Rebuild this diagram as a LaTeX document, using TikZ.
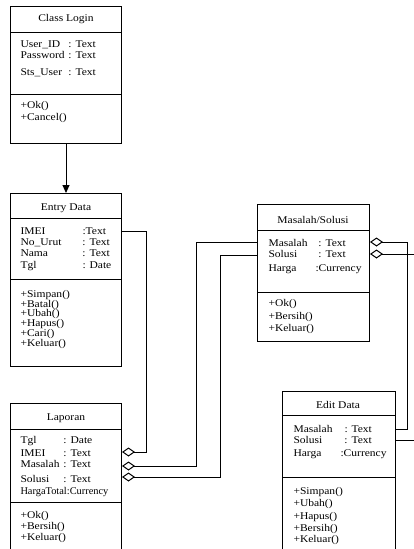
\documentclass[tikz,border=0pt]{standalone}
\usepackage{fontspec}
\setmainfont{Liberation Serif}[FakeStretch=1.12]
\usetikzlibrary{arrows.meta}
\begin{document}
\begin{tikzpicture}[x=1pt,y=-1pt, line width=1pt,
  cls/.style={draw, rectangle, inner sep=0pt, anchor=north west},
  txt/.style={inner sep=0pt, anchor=base west, font=\fontsize{10.3}{12}\selectfont},
  ttl/.style={inner sep=0pt, font=\fontsize{10.3}{12}\selectfont},
  agg/.style={-{Diamond[open,length=13pt,width=9pt]}},
]
\clip (0,0) rectangle (414,549);
% ---------- Class Login
\node[cls, minimum width=111pt, minimum height=137pt] (login) at (10,6) {};
\draw (10,32) -- (121,32);
\draw (10,94) -- (121,94);
\node[ttl] (loginT) at (66,19) {Class Login};
\node[txt] (l1) at (20,47) {\makebox[48pt][l]{User\_ID}: Text};
\node[txt] (l2) at (20,58) {\makebox[48pt][l]{Password}: Text};
\node[txt] (l3) at (20,75) {\makebox[48pt][l]{Sts\_User}: Text};
\node[txt] (l4) at (20,108) {+Ok()};
\node[txt] (l5) at (20,120) {+Cancel()};
% ---------- Entry Data
\node[cls, minimum width=111pt, minimum height=173pt] (entry) at (10,193) {};
\draw (10,218) -- (121,218);
\draw (10,279) -- (121,279);
\node[ttl] (entryT) at (66,208) {Entry Data};
\node[txt] (e1) at (20,234) {\makebox[62pt][l]{IMEI}:Text};
\node[txt] (e2) at (20,245) {\makebox[62pt][l]{No\_Urut}: Text};
\node[txt] (e3) at (20,256) {\makebox[62pt][l]{Nama}: Text};
\node[txt] (e4) at (20,268) {\makebox[62pt][l]{Tgl}: Date};
\node[txt] (e5) at (20,297) {+Simpan()};
\node[txt] (e6) at (20,307) {+Batal()};
\node[txt] (e7) at (20,316) {+Ubah()};
\node[txt] (e8) at (20,326) {+Hapus()};
\node[txt] (e9) at (20,336) {+Cari()};
\node[txt] (e10) at (20,346) {+Keluar()};
% ---------- Masalah/Solusi
\node[cls, minimum width=112pt, minimum height=137pt] (mas) at (257,204) {};
\draw (257,230) -- (369,230);
\draw (257,292) -- (369,292);
\node[ttl] (masT) at (313,220) {Masalah/Solusi};
\node[txt] (m1) at (268,246) {\makebox[50pt][l]{Masalah}: Text};
\node[txt] (m2) at (268,257) {\makebox[50pt][l]{Solusi}: Text};
\node[txt] (m3) at (268,271) {\makebox[47pt][l]{Harga}:Currency};
\node[txt] (m4) at (268,306) {+Ok()};
\node[txt] (m5) at (268,319) {+Bersih()};
\node[txt] (m6) at (268,331) {+Keluar()};
% ---------- Laporan
\node[cls, minimum width=111pt, minimum height=160pt] (lap) at (10,403) {};
\draw (10,429) -- (121,429);
\draw (10,502) -- (121,502);
\node[ttl] (lapT) at (66,418) {Laporan};
\node[txt] (p1) at (20,443) {\makebox[43pt][l]{Tgl}: Date};
\node[txt] (p2) at (20,456) {\makebox[43pt][l]{IMEI}: Text};
\node[txt] (p3) at (20,467) {\makebox[43pt][l]{Masalah}: Text};
\node[txt] (p4) at (20,482) {\makebox[43pt][l]{Solusi}: Text};
\node[txt] (p5) at (20,494) {\scalebox{0.9}[1]{HargaTotal:Currency}};
\node[txt] (p6) at (20,518) {+Ok()};
\node[txt] (p7) at (20,529) {+Bersih()};
\node[txt] (p8) at (20,540) {+Keluar()};
% ---------- Edit Data
\node[cls, minimum width=113pt, minimum height=172pt] (edit) at (282,391) {};
\draw (282,415) -- (395,415);
\draw (282,477) -- (395,477);
\node[ttl] (editT) at (338,405) {Edit Data};
\node[txt] (d1) at (293,432) {\makebox[51pt][l]{Masalah}: Text};
\node[txt] (d2) at (293,443) {\makebox[51pt][l]{Solusi}: Text};
\node[txt] (d3) at (293,456) {\makebox[47pt][l]{Harga}:Currency};
\node[txt] (d4) at (293,494) {+Simpan()};
\node[txt] (d5) at (293,506) {+Ubah()};
\node[txt] (d6) at (293,519) {+Hapus()};
\node[txt] (d7) at (293,531) {+Bersih()};
\node[txt] (d8) at (293,542) {+Keluar()};
% ---------- connectors
\draw[-{Triangle[length=8pt,width=7pt]}] (login.south) -- (entry.north);
\draw[agg] ([yshift=-38pt]entry.north east) -- ++(24,0) |- ([yshift=-49pt]lap.north east);
\draw[agg] ([yshift=-38pt]mas.north west) -- ++(-61,0) |- ([yshift=-63pt]lap.north east);
\draw[agg] ([yshift=-51pt]mas.north west) -- ++(-37,0) |- ([yshift=-74pt]lap.north east);
\draw[agg] ([yshift=-38pt]edit.north east) -- ++(11,0) |- ([yshift=-38pt]mas.north east);
\coordinate (o1) at (420,254);
\coordinate (o2) at (420,440);
\draw[agg] (o1) -- ([yshift=-50pt]mas.north east);
\draw ([yshift=-49pt]edit.north east) -- (o2);
\end{tikzpicture}
\end{document}
